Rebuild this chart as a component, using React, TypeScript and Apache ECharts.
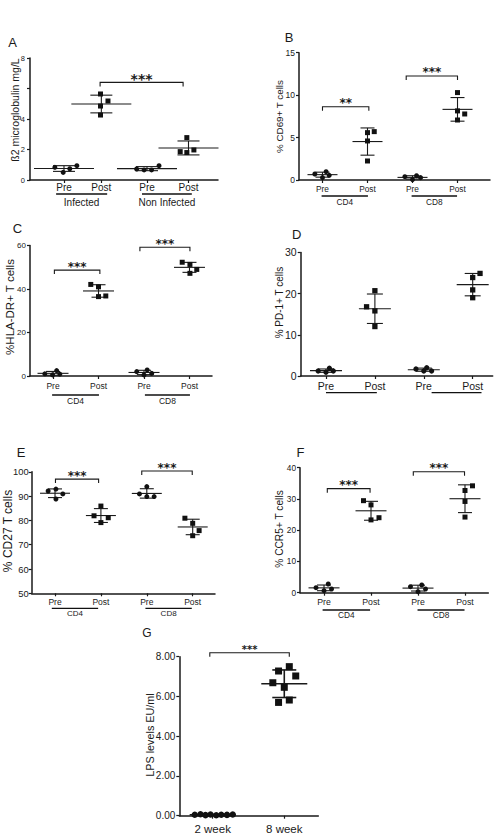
import React, { useEffect, useRef } from "react";
import * as echarts from "echarts";

const FONT = "'Liberation Sans', Arial, Helvetica, sans-serif";
const STAR_FONT = "'DejaVu Sans', sans-serif";
const INK = "#1a1a1a";

// ---------------- data: panel A ----------------
const A_ticks = ["Pre", "Post", "Pre", "Post"];
const A_xPos = [1, 1.9, 3, 4];
const A_values = [
  [0.83, 0.5, 0.74, 0.94],
  [5.64, 5.18, 4.85, 4.26],
  [0.72, 0.66, 0.66, 0.94],
  [2.78, 1.86, 1.8, 1.97],
];
const A_jitter = [
  [-0.22, -0.02, 0.14, 0.31],
  [-0.02, 0.16, -0.02, -0.02],
  [-0.25, -0.07, 0.11, 0.29],
  [-0.04, -0.2, -0.04, 0.13],
];
const A_brackets = [[1.87, 3.87, 6.4]];
const A_stars = ["***"];
const A_groupSpans = [[0.81, 2.04], [2.88, 4.08]];
const A_groupLabels = ["Infected", "Non Infected"];

// ---------------- data: panel B ----------------
const B_ticks = ["Pre", "Post", "Pre", "Post"];
const B_xPos = [1, 2, 3, 4];
const B_values = [
  [0.71, 0.28, 0.98, 0.55],
  [5.7, 5.58, 4.6, 2.24],
  [0.39, 0.05, 0.51, 0.28],
  [10.3, 8.14, 7.78, 7.07],
];
const B_jitter = [
  [-0.17, 0, 0.08, 0.15],
  [0.15, 0, 0, 0],
  [-0.17, 0, 0.09, 0.18],
  [0, 0, 0.16, 0],
];
const B_brackets = [[1.0, 2.03, 8.64], [2.86, 4.0, 12.26]];
const B_stars = ["**", "***"];
const B_groupSpans = [[0.98, 2.01], [2.98, 3.99]];
const B_groupLabels = ["CD4", "CD8"];

// ---------------- data: panel C ----------------
const C_ticks = ["Pre", "Post", "Pre", "Post"];
const C_xPos = [1, 2, 3, 4];
const C_values = [
  [1.0, 0.5, 2.5, 0.9],
  [42.1, 41.0, 36.5, 36.8],
  [2.0, 0.5, 2.8, 1.2],
  [52.3, 51.3, 49.0, 47.2],
];
const C_jitter = [
  [-0.18, -0.01, 0.08, 0.15],
  [-0.17, 0, 0, 0.16],
  [-0.16, 0, 0.07, 0.17],
  [-0.16, 0.01, 0.16, 0.01],
];
const C_brackets = [[1.03, 2.03, 48.7], [2.91, 4.01, 59.2]];
const C_stars = ["***", "***"];
const C_groupSpans = [[0.98, 2.01], [3.02, 4.01]];
const C_groupLabels = ["CD4", "CD8"];

// ---------------- data: panel D ----------------
const D_ticks = ["Pre", "Post", "Pre", "Post"];
const D_xPos = [1, 2, 3, 4];
const D_values = [
  [1.21, 0.9, 1.87, 1.21],
  [16.8, 20.7, 15.8, 12.0],
  [1.7, 1.21, 2.0, 1.21],
  [23.9, 24.9, 20.9, 19.0],
];
const D_jitter = [
  [-0.16, 0, 0.07, 0.15],
  [-0.17, 0, 0, 0],
  [-0.16, 0, 0.06, 0.16],
  [0, 0.15, 0, 0],
];
const D_brackets: number[][] = [];
const D_stars: string[] = [];
const D_groupSpans = [[1.0, 2.04], [3.16, 4.18]];
const D_groupLabels = ["", ""];

// ---------------- data: panel E ----------------
const E_ticks = ["Pre", "Post", "Pre", "Post"];
const E_xPos = [1, 2, 3, 4];
const E_values = [
  [92.1, 92.9, 88.8, 90.9],
  [85.9, 81.9, 81.1, 79.1],
  [90.9, 93.9, 89.8, 89.8],
  [80.9, 78.8, 75.8, 73.7],
];
const E_jitter = [
  [-0.15, 0.02, 0.02, 0.17],
  [0, -0.15, 0.16, 0],
  [-0.16, 0, 0, 0.16],
  [-0.17, 0, 0.14, 0],
];
const E_brackets = [[1.01, 1.95, 97.0], [2.89, 3.99, 100.3]];
const E_stars = ["***", "***"];
const E_groupSpans = [[0.93, 1.94], [2.97, 3.98]];
const E_groupLabels = ["CD4", "CD8"];

// ---------------- data: panel F ----------------
const F_ticks = ["Pre", "Post", "Pre", "Post"];
const F_xPos = [1, 2, 3, 4];
const F_values = [
  [1.6, 0.64, 2.78, 1.18],
  [29.45, 28.1, 24.0, 23.3],
  [1.92, 0.32, 2.46, 1.18],
  [34.2, 32.7, 29.2, 24.2],
];
const F_jitter = [
  [-0.17, 0, 0.09, 0.16],
  [-0.16, 0, 0.17, 0],
  [-0.16, 0, 0.08, 0.16],
  [0.16, 0, 0, 0],
];
const F_brackets = [[1.07, 1.98, 33.3], [2.9, 3.99, 38.7]];
const F_stars = ["***", "***"];
const F_groupSpans = [[0.97, 1.98], [2.99, 3.99]];
const F_groupLabels = ["CD4", "CD8"];

// ---------------- data: panel G ----------------
const G_ticks = ["2 week", "8 week"];
const G_xPos = [1, 2];
const G_values = [
  [0.05, 0.07, 0.03, 0.06, 0.02, 0.05, 0.04, 0.06],
  [7.28, 7.5, 7.03, 6.69, 6.46, 5.7, 5.82],
];
const G_jitter = [
  [-0.25, -0.17, -0.1, -0.03, 0.05, 0.12, 0.2, 0.28],
  [-0.08, 0.07, 0.16, -0.16, 0, -0.08, 0.07],
];
const G_brackets = [[0.96, 2.07, 8.2]];
const G_stars = ["***"];
const G_groupSpans: number[][] = [];
const G_groupLabels: string[] = [];

const PREPOST_SYMBOLS = ["circle", "rect", "circle", "rect"];

type Panel = {
  letter: string; letterPos: number[]; letterSize: number;
  yName: string; yNamePos: number[]; yNameSize: number;
  grid: number[]; xRange: number[]; yRange: number[]; yInterval: number;
  yFmt?: (v: number) => string;
  xPos: number[]; ticks: string[]; values: number[][]; jitter: number[][];
  symbols: string[]; symSizes: number[];
  meanHalf: number; capHalf: number; lineW: number;
  brackets: number[][]; stars: string[]; starSize: number;
  groupSpans: number[][]; groupLabels: string[]; lineDy: number; labelDy: number; groupSize: number;
  xFont: number; xMargin: number; yFont: number; yMargin: number;
};

const panels: Panel[] = [
  {
    letter: "A", letterPos: [12.5, 42.5], letterSize: 13,
    yName: "ß2 microglobulin mg/L", yNamePos: [15, 110], yNameSize: 10.5,
    grid: [30, 58, 188, 122], xRange: [0.181, 4.711], yRange: [0, 8], yInterval: 2,
    yFmt: (v) => (v === 6 ? "" : String(v)),
    xPos: A_xPos, ticks: A_ticks, values: A_values, jitter: A_jitter,
    symbols: PREPOST_SYMBOLS, symSizes: [5, 5, 5, 5],
    meanHalf: 30, capHalf: 11, lineW: 1.1,
    brackets: A_brackets, stars: A_stars, starSize: 14,
    groupSpans: A_groupSpans, groupLabels: A_groupLabels, lineDy: 14, labelDy: 22, groupSize: 10,
    xFont: 10, xMargin: 2, yFont: 7.5, yMargin: 5,
  },
  {
    letter: "B", letterPos: [289, 37.5], letterSize: 13,
    yName: "% CD69+ T cells", yNamePos: [279, 116.5], yNameSize: 9.8,
    grid: [299, 52.7, 191, 127.3], xRange: [0.478, 4.722], yRange: [0, 15], yInterval: 5,
    xPos: B_xPos, ticks: B_ticks, values: B_values, jitter: B_jitter,
    symbols: PREPOST_SYMBOLS, symSizes: [5, 5, 5, 5],
    meanHalf: 15, capHalf: 7, lineW: 1.1,
    brackets: B_brackets, stars: B_stars, starSize: 12,
    groupSpans: B_groupSpans, groupLabels: B_groupLabels, lineDy: 16, labelDy: 21.5, groupSize: 8.3,
    xFont: 8.3, xMargin: 5, yFont: 8.5, yMargin: 4,
  },
  {
    letter: "C", letterPos: [17.5, 228.5], letterSize: 13,
    yName: "%HLA-DR+ T cells", yNamePos: [10, 307], yNameSize: 11.5,
    grid: [30, 245.5, 182, 130.5], xRange: [0.494, 4.495], yRange: [0, 60], yInterval: 20,
    xPos: C_xPos, ticks: C_ticks, values: C_values, jitter: C_jitter,
    symbols: PREPOST_SYMBOLS, symSizes: [5, 5, 5, 5],
    meanHalf: 15.5, capHalf: 7, lineW: 1.1,
    brackets: C_brackets, stars: C_stars, starSize: 12,
    groupSpans: C_groupSpans, groupLabels: C_groupLabels, lineDy: 19, labelDy: 25, groupSize: 8.5,
    xFont: 8.5, xMargin: 5.5, yFont: 8, yMargin: 4,
  },
  {
    letter: "D", letterPos: [296.7, 234], letterSize: 13,
    yName: "% PD-1+ T cells", yNamePos: [279, 302.5], yNameSize: 10,
    grid: [300.7, 252.4, 192, 123.6], xRange: [0.483, 4.409], yRange: [0, 30], yInterval: 10,
    xPos: D_xPos, ticks: D_ticks, values: D_values, jitter: D_jitter,
    symbols: PREPOST_SYMBOLS, symSizes: [5.3, 5.3, 5.3, 5.3],
    meanHalf: 16, capHalf: 8, lineW: 1.1,
    brackets: D_brackets, stars: D_stars, starSize: 12,
    groupSpans: D_groupSpans, groupLabels: D_groupLabels, lineDy: 16.7, labelDy: 22, groupSize: 9,
    xFont: 10.5, xMargin: 4.5, yFont: 10.5, yMargin: 4,
  },
  {
    letter: "E", letterPos: [21, 452.5], letterSize: 13,
    yName: "% CD27 T cells", yNamePos: [8, 531], yNameSize: 12,
    grid: [31.7, 471.8, 183.3, 121.5], xRange: [0.492, 4.486], yRange: [50, 100], yInterval: 10,
    xPos: E_xPos, ticks: E_ticks, values: E_values, jitter: E_jitter,
    symbols: PREPOST_SYMBOLS, symSizes: [5, 5, 5, 5],
    meanHalf: 15, capHalf: 7, lineW: 1.1,
    brackets: E_brackets, stars: E_stars, starSize: 12,
    groupSpans: E_groupSpans, groupLabels: E_groupLabels, lineDy: 15, labelDy: 20.4, groupSize: 8,
    xFont: 8.5, xMargin: 4.5, yFont: 9.4, yMargin: 3,
  },
  {
    letter: "F", letterPos: [300.5, 452.5], letterSize: 13,
    yName: "% CCR5+ T cells", yNamePos: [279, 529], yNameSize: 10.2,
    grid: [300, 467.7, 188.3, 125], xRange: [0.489, 4.496], yRange: [0, 40], yInterval: 10,
    xPos: F_xPos, ticks: F_ticks, values: F_values, jitter: F_jitter,
    symbols: PREPOST_SYMBOLS, symSizes: [5, 5, 5, 5],
    meanHalf: 15.5, capHalf: 7, lineW: 1.1,
    brackets: F_brackets, stars: F_stars, starSize: 12,
    groupSpans: F_groupSpans, groupLabels: F_groupLabels, lineDy: 17.3, labelDy: 22.6, groupSize: 8.3,
    xFont: 8.7, xMargin: 5, yFont: 8.3, yMargin: 4,
  },
  {
    letter: "G", letterPos: [147, 633], letterSize: 12,
    yName: "LPS levels EU/ml", yNamePos: [150, 735], yNameSize: 10.8,
    grid: [179.3, 656.7, 139, 159], xRange: [0.534, 2.475], yRange: [0, 8], yInterval: 2,
    yFmt: (v) => v.toFixed(2),
    xPos: G_xPos, ticks: G_ticks, values: G_values, jitter: G_jitter,
    symbols: ["circle", "rect"], symSizes: [6.5, 7],
    meanHalf: 23, capHalf: 12, lineW: 1.6,
    brackets: G_brackets, stars: G_stars, starSize: 10,
    groupSpans: G_groupSpans, groupLabels: G_groupLabels, lineDy: 16, labelDy: 22, groupSize: 9,
    xFont: 11.5, xMargin: 7.5, yFont: 10, yMargin: 4,
  },
];

function meanSd(arr: number[]) {
  const m = arr.reduce((a, b) => a + b, 0) / arr.length;
  const v = arr.reduce((a, b) => a + (b - m) * (b - m), 0) / (arr.length - 1);
  return [m, Math.sqrt(v)];
}

function buildOption() {
  const opt: any = {
    animation: false,
    backgroundColor: "#ffffff",
    grid: [], xAxis: [], yAxis: [], series: [], graphic: [],
  };
  panels.forEach((p, k) => {
    const [l, t, w, h] = p.grid;
    opt.grid.push({ left: l, top: t, width: w, height: h, containLabel: false });
    opt.xAxis.push({
      type: "value", gridIndex: k, min: p.xRange[0], max: p.xRange[1],
      axisLine: { show: true, onZero: false, lineStyle: { color: INK, width: 1.5 } },
      axisTick: { show: true, length: 3, inside: false, customValues: p.xPos, lineStyle: { color: INK, width: 1.2 } },
      axisLabel: {
        customValues: p.xPos,
        formatter: (v: number) => {
          const i = p.xPos.findIndex((x) => Math.abs(x - v) < 1e-6);
          return i >= 0 ? p.ticks[i] : "";
        },
        fontSize: p.xFont, margin: p.xMargin, color: INK, fontFamily: FONT,
      },
      splitLine: { show: false },
    });
    opt.yAxis.push({
      type: "value", gridIndex: k, min: p.yRange[0], max: p.yRange[1], interval: p.yInterval,
      axisLine: { show: true, onZero: false, lineStyle: { color: INK, width: 1.5 } },
      axisTick: { show: true, length: 3, inside: false, lineStyle: { color: INK, width: 1.2 } },
      axisLabel: {
        formatter: p.yFmt ? p.yFmt : (v: number) => String(v),
        fontSize: p.yFont, margin: p.yMargin, color: INK, fontFamily: FONT,
        showMinLabel: true, showMaxLabel: true,
      },
      splitLine: { show: false },
    });

    const yMin = p.yRange[0];

    // mean ± SD
    const stats = p.values.map((vals, g) => {
      const [m, sd] = meanSd(vals);
      return [p.xPos[g], m, sd];
    });
    opt.series.push({
      type: "custom", xAxisIndex: k, yAxisIndex: k, clip: false, z: 3,
      data: stats,
      renderItem: (params: any, api: any) => {
        const x = api.value(0), m = api.value(1), sd = api.value(2);
        const pm = api.coord([x, m]);
        const pu = api.coord([x, m + sd]);
        const pl = api.coord([x, Math.max(m - sd, yMin)]);
        const st = { stroke: INK, lineWidth: p.lineW, fill: null };
        return {
          type: "group",
          children: [
            { type: "line", shape: { x1: pm[0] - p.meanHalf, y1: pm[1], x2: pm[0] + p.meanHalf, y2: pm[1] }, style: st },
            { type: "line", shape: { x1: pu[0], y1: pu[1], x2: pl[0], y2: pl[1] }, style: st },
            { type: "line", shape: { x1: pu[0] - p.capHalf, y1: pu[1], x2: pu[0] + p.capHalf, y2: pu[1] }, style: st },
            { type: "line", shape: { x1: pl[0] - p.capHalf, y1: pl[1], x2: pl[0] + p.capHalf, y2: pl[1] }, style: st },
          ],
        };
      },
    });

    // points
    p.values.forEach((vals, g) => {
      opt.series.push({
        type: "scatter", xAxisIndex: k, yAxisIndex: k, z: 4,
        symbol: p.symbols[g], symbolSize: p.symSizes[g],
        itemStyle: { color: "#111111", opacity: 1 },
        data: vals.map((v, i) => [p.xPos[g] + p.jitter[g][i], v]),
        silent: true,
      });
    });

    // significance brackets
    if (p.brackets.length) {
      opt.series.push({
        type: "custom", xAxisIndex: k, yAxisIndex: k, clip: false, z: 3,
        data: p.brackets,
        renderItem: (params: any, api: any) => {
          const x1 = api.value(0), x2 = api.value(1), y = api.value(2);
          const a = api.coord([x1, y]);
          const b = api.coord([x2, y]);
          const drop = 4;
          return {
            type: "group",
            children: [
              {
                type: "polyline",
                shape: { points: [[a[0], a[1] + drop], [a[0], a[1]], [b[0], b[1]], [b[0], b[1] + drop]] },
                style: { stroke: INK, lineWidth: 1.1, fill: null },
              },
              {
                type: "text",
                x: (a[0] + b[0]) / 2, y: a[1] - 3.5,
                style: {
                  text: p.stars[params.dataIndex], fill: INK,
                  font: `bold ${p.starSize}px ${STAR_FONT}`,
                  align: "center", verticalAlign: "middle",
                  textAlign: "center", textVerticalAlign: "middle",
                },
              },
            ],
          };
        },
      });
    }

    // group underlines + labels
    if (p.groupSpans.length) {
      opt.series.push({
        type: "custom", xAxisIndex: k, yAxisIndex: k, clip: false, z: 3,
        data: p.groupSpans,
        renderItem: (params: any, api: any) => {
          const a = api.coord([api.value(0), yMin]);
          const b = api.coord([api.value(1), yMin]);
          const children: any[] = [
            {
              type: "line",
              shape: { x1: a[0], y1: a[1] + p.lineDy, x2: b[0], y2: b[1] + p.lineDy },
              style: { stroke: "#111", lineWidth: 1.3 },
            },
          ];
          const lab = p.groupLabels[params.dataIndex];
          if (lab) {
            children.push({
              type: "text",
              x: (a[0] + b[0]) / 2, y: a[1] + p.labelDy,
              style: {
                text: lab, fill: INK, font: `${p.groupSize}px ${FONT}`,
                align: "center", verticalAlign: "middle",
                textAlign: "center", textVerticalAlign: "middle",
              },
            });
          }
          return { type: "group", children };
        },
      });
    }

    // letter + y-axis title
    opt.graphic.push({
      type: "text", x: p.letterPos[0], y: p.letterPos[1],
      style: {
        text: p.letter, fill: INK, font: `${p.letterSize}px ${FONT}`,
        align: "center", verticalAlign: "middle", textAlign: "center", textVerticalAlign: "middle",
      },
    });
    opt.graphic.push({
      type: "text", x: p.yNamePos[0], y: p.yNamePos[1], rotation: Math.PI / 2,
      style: {
        text: p.yName, fill: INK, font: `${p.yNameSize}px ${FONT}`,
        align: "center", verticalAlign: "middle", textAlign: "center", textVerticalAlign: "middle",
      },
    });
  });
  return opt;
}

export default function App() {
  const ref = useRef<HTMLDivElement>(null);
  useEffect(() => {
    if (!ref.current) return;
    const chart = echarts.init(ref.current, undefined, { renderer: "svg" });
    chart.setOption(buildOption());
    return () => chart.dispose();
  }, []);
  return (
    <div
      ref={ref}
      style={{ position: "absolute", left: 0, top: 0, width: 501, height: 837, background: "#fff" }}
    />
  );
}
